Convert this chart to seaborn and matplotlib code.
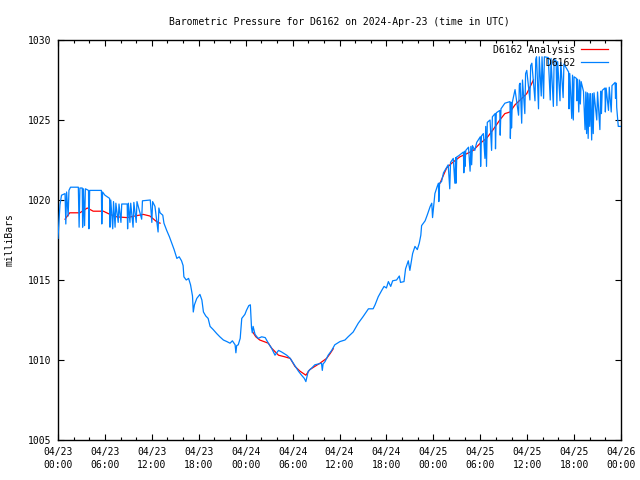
import matplotlib
matplotlib.use("Agg")
import numpy as np
import pandas as pd
import seaborn as sns
import matplotlib.pyplot as plt
from matplotlib.lines import Line2D
from matplotlib.ticker import MultipleLocator

plt.rcParams['font.family'] = ['DejaVu Sans Mono']
plt.rcParams['font.size'] = 7

# hours since 2024-04-23 00:00 UTC and station readings (mbar)
obs_hours = [
    0.0, 0.25, 0.45, 0.9, 1.0, 1.1, 1.3, 1.4, 1.6, 2.6, 2.7, 2.8, 3.1, 3.15, 3.25, 3.4, 3.5, 3.9, 3.95, 4.05,
    5.55, 5.6, 5.7, 6.0, 6.6, 6.65, 6.75, 7.0, 7.1, 7.3, 7.4, 7.7, 7.8, 8.05, 8.15, 8.85, 8.9, 9.0, 9.2, 9.3,
    9.6, 9.7, 10.0, 10.1, 10.7, 10.8, 11.8, 12.0, 12.1, 12.4, 12.8, 12.9, 13.05, 13.4, 13.55, 13.9,
    14.25, 14.55, 14.85, 15.2, 15.5, 15.8, 16.0, 16.1, 16.4, 16.7, 16.95, 17.2, 17.3, 17.45, 17.75,
    18.15, 18.4, 18.6, 18.9, 19.2, 19.45, 19.85, 20.3, 20.7, 21.15, 21.6, 22.0, 22.3, 22.65, 22.75, 22.85,
    23.05, 23.3, 23.5, 23.9, 24.1, 24.4, 24.6, 24.75, 24.85, 24.95, 25.2, 25.6, 26.05, 26.5, 26.9, 27.3,
    27.75, 28.2, 28.6, 29.25, 29.7, 30.1, 30.75, 31.15, 31.5, 31.7, 32.0, 32.45, 32.85, 33.3, 33.7, 33.8,
    33.9, 34.15, 34.55, 35.0, 35.4, 36.05, 36.7, 37.1, 37.75, 38.4, 39.0, 39.7, 40.3, 40.55, 40.95, 41.4,
    41.7, 42.0, 42.25, 42.55, 42.8, 43.3, 43.65, 43.8, 44.25, 44.45, 44.8, 45.0, 45.35, 45.65, 45.95,
    46.2, 46.4, 46.5, 46.95, 47.25, 47.6, 47.8, 47.9, 48.2, 48.5, 48.65, 48.7, 48.8, 49.05, 49.3, 49.9,
    50.1, 50.2, 50.55, 50.75, 50.85, 50.9, 51.0, 51.2, 51.85, 51.9, 52.0, 52.05, 52.15, 52.5, 52.7, 52.8,
    52.9, 53.0, 53.3, 53.55, 54.0, 54.05, 54.15, 54.4, 54.6, 54.7, 54.8, 54.9, 55.25, 55.45, 55.55, 55.9,
    55.95, 56.05, 56.5, 56.55, 56.65, 57.15, 57.8, 57.85, 57.95, 58.0, 58.1, 58.45, 58.9, 59.0, 59.1,
    59.3, 59.4, 59.7, 59.8, 59.95, 60.35, 60.45, 60.6, 61.0, 61.1, 61.2, 61.45, 61.55, 61.8, 61.9, 62.1,
    62.2, 62.7, 62.95, 63.05, 63.35, 63.45, 63.7, 63.8, 63.9, 64.2, 64.3, 64.6, 64.7, 65.3, 65.35, 65.45,
    65.7, 65.8, 65.9, 66.0, 66.3, 66.35, 66.45, 66.6, 66.7, 66.8, 66.9, 67.2, 67.4, 67.5, 67.6, 67.7,
    67.8, 67.9, 68.0, 68.1, 68.25, 68.35, 68.45, 68.55, 68.9, 69.0, 69.3, 69.4, 69.5, 69.6, 69.95, 70.0,
    70.1, 70.4, 70.5, 70.75, 70.85, 71.25, 71.3, 71.4, 71.45, 71.65, 71.95,
]
obs_mbar = [
    1017.6, 1019.7, 1020.3, 1020.4, 1018.5, 1020.5, 1019.0, 1020.6, 1020.8, 1020.8, 1018.3, 1020.75, 1020.75, 1018.3, 1020.7, 1018.4, 1020.7, 1020.6, 1018.2, 1020.6,
    1020.6, 1018.5, 1020.5, 1020.3, 1020.1, 1018.3, 1020.0, 1018.2, 1019.9, 1018.3, 1019.8, 1018.6, 1019.75, 1018.6, 1019.75, 1019.75, 1018.2, 1019.8, 1018.6, 1019.8,
    1018.3, 1019.85, 1018.6, 1019.9, 1018.8, 1019.95, 1020.0, 1018.6, 1019.9, 1019.6, 1018.0, 1019.5, 1019.2, 1019.05, 1018.55, 1018.1,
    1017.7, 1017.3, 1016.9, 1016.35, 1016.45, 1016.2, 1015.9, 1015.2, 1015.0, 1015.1, 1014.7, 1014.0, 1013.0, 1013.45, 1013.85,
    1014.1, 1013.75, 1013.0, 1012.75, 1012.6, 1012.1, 1011.9, 1011.65, 1011.45, 1011.25, 1011.15, 1011.05, 1011.2, 1010.95, 1010.45, 1010.9,
    1010.95, 1011.35, 1012.6, 1012.85, 1013.1, 1013.4, 1013.45, 1012.0, 1011.7, 1012.1, 1011.6, 1011.35, 1011.45, 1011.4, 1011.05, 1010.75,
    1010.3, 1010.6, 1010.5, 1010.3, 1010.1, 1009.8, 1009.3, 1009.05, 1008.85, 1008.65, 1009.3, 1009.5, 1009.7, 1009.75, 1009.8, 1009.35,
    1009.75, 1009.9, 1010.3, 1010.6, 1010.95, 1011.15, 1011.25, 1011.45, 1011.75, 1012.3, 1012.7, 1013.2, 1013.2, 1013.45, 1013.95, 1014.35,
    1014.6, 1014.5, 1014.9, 1014.6, 1014.95, 1015.0, 1015.25, 1014.85, 1014.9, 1015.7, 1016.2, 1015.6, 1016.65, 1017.1, 1016.9,
    1017.3, 1017.8, 1018.4, 1018.7, 1019.1, 1019.6, 1019.8, 1018.9, 1020.4, 1020.85, 1021.05, 1019.9, 1021.05, 1021.15, 1021.7, 1022.2,
    1020.7, 1022.35, 1022.6, 1021.05, 1022.65, 1021.05, 1022.7, 1022.75, 1023.0, 1021.7, 1023.05, 1022.1, 1023.1, 1023.3, 1021.8, 1023.35,
    1022.2, 1023.4, 1023.1, 1023.6, 1023.95, 1022.1, 1024.0, 1024.15, 1022.6, 1024.6, 1022.1, 1024.85, 1025.0, 1023.1, 1025.2, 1025.4,
    1023.2, 1025.45, 1025.6, 1024.05, 1025.7, 1026.05, 1026.15, 1023.85, 1026.1, 1024.5, 1026.1, 1026.9, 1025.3, 1027.2, 1027.3,
    1024.8, 1027.5, 1025.4, 1027.9, 1028.1, 1026.25, 1028.4, 1028.55, 1026.2, 1028.8, 1028.95, 1025.7, 1028.95, 1026.5, 1028.95, 1026.35,
    1028.95, 1028.9, 1026.25, 1028.85, 1025.85, 1028.8, 1028.7, 1025.9, 1028.65, 1026.2, 1028.6, 1026.4, 1028.5, 1028.0, 1025.7, 1027.9,
    1025.1, 1027.8, 1025.0, 1027.7, 1027.6, 1026.2, 1027.55, 1025.5, 1027.5, 1026.0, 1027.4, 1026.8, 1024.4, 1026.75, 1024.15, 1026.7,
    1023.85, 1026.65, 1024.6, 1026.65, 1023.75, 1026.65, 1024.15, 1026.7, 1025.0, 1026.75, 1024.4, 1026.8, 1025.4, 1026.85, 1027.0, 1025.5,
    1027.0, 1025.6, 1027.05, 1025.5, 1027.15, 1027.35, 1026.35, 1027.3, 1025.8, 1024.6, 1024.6,
]

# analysis curve, only shown in three pieces
ana_hours = [0.9, 1.5, 2.8, 3.75, 4.5, 5.8, 6.65, 7.5, 8.8, 9.85, 10.9, 11.75, 12.6, 13.05,
             24.9, 25.3, 25.8, 26.9, 27.3, 28.2, 29.0, 29.7, 30.3, 30.95, 31.7, 32.2, 32.85, 33.5, 34.35, 34.8, 35.2,
             48.85, 49.7, 50.35, 51.4, 52.3, 53.1, 54.0, 54.8, 55.65, 56.5, 57.15, 57.8, 58.45, 59.1, 59.95, 60.8]
ana_mbar = [1018.8, 1019.2, 1019.2, 1019.5, 1019.3, 1019.3, 1019.1, 1018.95, 1018.9, 1019.0, 1019.1, 1019.0, 1018.65, 1018.55,
            1011.75, 1011.45, 1011.25, 1011.05, 1010.75, 1010.3, 1010.2, 1010.1, 1009.6, 1009.3, 1009.05, 1009.4, 1009.6, 1009.8, 1010.1, 1010.4, 1010.7,
            1021.05, 1022.0, 1022.3, 1022.7, 1022.9, 1023.1, 1023.55, 1023.85, 1024.4, 1025.0, 1025.4, 1025.5, 1025.95, 1026.25, 1026.65, 1027.5]
ana_piece = [1] * 14 + [2] * 17 + [3] * 16

tick_hours = list(range(0, 73, 6))
tick_labels = ['04/23\n00:00', '04/23\n06:00', '04/23\n12:00', '04/23\n18:00',
               '04/24\n00:00', '04/24\n06:00', '04/24\n12:00', '04/24\n18:00',
               '04/25\n00:00', '04/25\n06:00', '04/25\n12:00', '04/25\n18:00',
               '04/26\n00:00']

red = '#ff0000'
blue = '#0080ff'

df_obs = pd.DataFrame({'hour': obs_hours, 'mbar': obs_mbar})
df_ana = pd.DataFrame({'hour': ana_hours, 'mbar': ana_mbar, 'piece': ana_piece})

fig = plt.figure(figsize=(6.4, 4.8), dpi=100)
ax = fig.add_axes([58 / 640, 40 / 480, 563 / 640, 400 / 480])

sns.lineplot(data=df_ana, x='hour', y='mbar', units='piece', estimator=None,
             color=red, lw=0.9, ax=ax, legend=False, zorder=2)
sns.lineplot(data=df_obs, x='hour', y='mbar', estimator=None, sort=False,
             color=blue, lw=0.9, ax=ax, legend=False, zorder=3)

ax.set_xlim(0, 72)
ax.set_ylim(1005, 1030)
ax.set_xticks(tick_hours)
ax.set_xticklabels(tick_labels, linespacing=1.4)
ax.xaxis.set_minor_locator(MultipleLocator(2))
ax.set_yticks(range(1005, 1031, 5))
ax.tick_params(which='major', direction='in', top=True, right=True, length=4, width=0.8, colors='black')
ax.tick_params(axis='x', which='major', pad=5)
ax.tick_params(axis='y', which='major', pad=5)
ax.tick_params(which='minor', direction='in', top=True, length=2, width=0.8)
ax.set_xlabel('')
ax.set_ylabel('')
for sp in ax.spines.values():
    sp.set_linewidth(1)
    sp.set_color('black')

ax.set_title('Barometric Pressure for D6162 on 2024-Apr-23 (time in UTC)', pad=11, fontsize=7)
fig.text(10 / 640, 0.5, 'milliBars', rotation=90, ha='center', va='center')

handles = [Line2D([], [], color=red, lw=0.9), Line2D([], [], color=blue, lw=0.9)]
ax.legend(handles, ['D6162 Analysis', '         D6162'], loc='upper right', frameon=False,
          bbox_to_anchor=(1 - 6 / 563, 1 + 2 / 400),
          markerfirst=False, handlelength=2.8, handletextpad=0.6, labelspacing=0.3,
          borderaxespad=0.3, fontsize=7)

fig.savefig('out.png', dpi=100)
